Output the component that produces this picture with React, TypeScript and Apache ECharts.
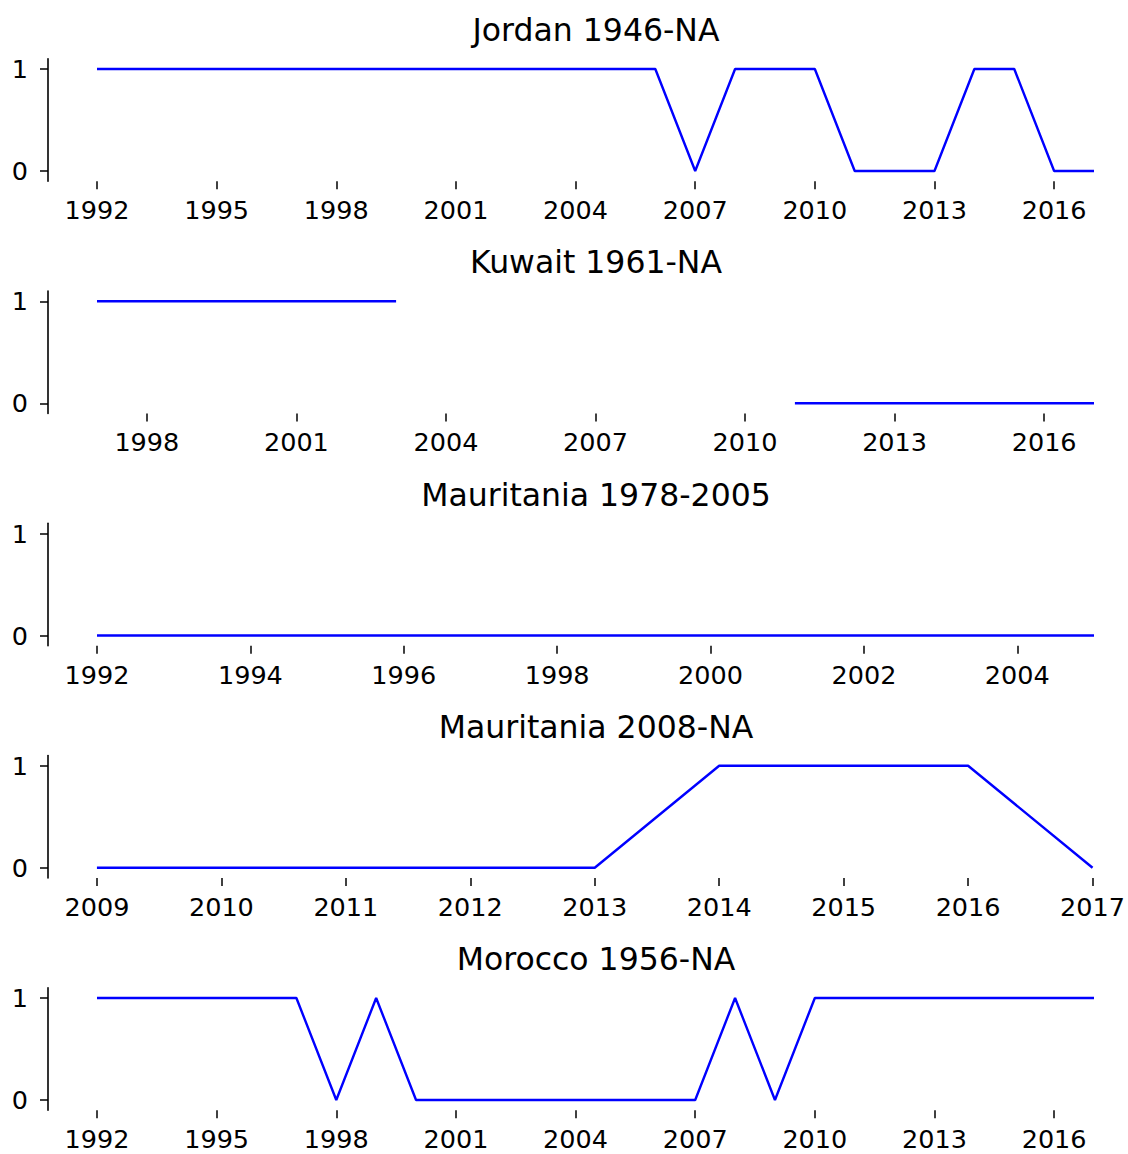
import React, { useEffect, useRef } from "react";
import * as echarts from "echarts";

const jordanYears = [1992, 1993, 1994, 1995, 1996, 1997, 1998, 1999, 2000, 2001, 2002, 2003, 2004, 2005, 2006, 2007, 2008, 2009, 2010, 2011, 2012, 2013, 2014, 2015, 2016, 2017];
const jordanValues = [1, 1, 1, 1, 1, 1, 1, 1, 1, 1, 1, 1, 1, 1, 1, 0, 1, 1, 1, 0, 0, 0, 1, 1, 0, 0];
const jordanTicks = [1992, 1995, 1998, 2001, 2004, 2007, 2010, 2013, 2016];

const kuwaitYears = [1997, 1998, 1999, 2000, 2001, 2002, 2003, 2004, 2005, 2006, 2007, 2008, 2009, 2010, 2011, 2012, 2013, 2014, 2015, 2016, 2017];
const kuwaitValues = [1, 1, 1, 1, 1, 1, 1, null, null, null, null, null, null, null, 0, 0, 0, 0, 0, 0, 0];
const kuwaitTicks = [1998, 2001, 2004, 2007, 2010, 2013, 2016];

const mauritania1Years = [1992, 1993, 1994, 1995, 1996, 1997, 1998, 1999, 2000, 2001, 2002, 2003, 2004, 2005];
const mauritania1Values = [0, 0, 0, 0, 0, 0, 0, 0, 0, 0, 0, 0, 0, 0];
const mauritania1Ticks = [1992, 1994, 1996, 1998, 2000, 2002, 2004];

const mauritania2Years = [2009, 2010, 2011, 2012, 2013, 2014, 2015, 2016, 2017];
const mauritania2Values = [0, 0, 0, 0, 0, 1, 1, 1, 0];
const mauritania2Ticks = [2009, 2010, 2011, 2012, 2013, 2014, 2015, 2016, 2017];

const moroccoYears = [1992, 1993, 1994, 1995, 1996, 1997, 1998, 1999, 2000, 2001, 2002, 2003, 2004, 2005, 2006, 2007, 2008, 2009, 2010, 2011, 2012, 2013, 2014, 2015, 2016, 2017];
const moroccoValues = [1, 1, 1, 1, 1, 1, 0, 1, 0, 0, 0, 0, 0, 0, 0, 0, 1, 0, 1, 1, 1, 1, 1, 1, 1, 1];
const moroccoTicks = [1992, 1995, 1998, 2001, 2004, 2007, 2010, 2013, 2016];

const yTicks = [0, 1];

const panels = [
  { title: "Jordan 1946-NA", years: jordanYears, values: jordanValues, ticks: jordanTicks },
  { title: "Kuwait 1961-NA", years: kuwaitYears, values: kuwaitValues, ticks: kuwaitTicks },
  { title: "Mauritania 1978-2005", years: mauritania1Years, values: mauritania1Values, ticks: mauritania1Ticks },
  { title: "Mauritania 2008-NA", years: mauritania2Years, values: mauritania2Values, ticks: mauritania2Ticks },
  { title: "Morocco 1956-NA", years: moroccoYears, values: moroccoValues, ticks: moroccoTicks },
];

const FONT = "DejaVu Sans";

export default function App() {
  const ref = useRef<HTMLDivElement>(null);
  useEffect(() => {
    if (!ref.current) return;
    const chart = echarts.init(ref.current, null, { renderer: "svg" });
    const step = 232.25;
    const gridLeft = 48;
    const gridHeight = 122.4;
    // data span occupies 997 px (from x=97 to x=1094); grid spans 48..1128
    const dataPx = 997;
    const leftPad = 49;
    const rightPad = 34;
    const grids: any[] = [];
    const xAxes: any[] = [];
    const yAxes: any[] = [];
    const series: any[] = [];
    const graphics: any[] = [];
    panels.forEach((p, i) => {
      const first = p.years[0];
      const last = p.years[p.years.length - 1];
      const span = last - first;
      grids.push({ left: gridLeft, top: 58.8 + step * i, right: 0, height: gridHeight });
      xAxes.push({
        gridIndex: i,
        type: "value",
        min: first - (span * leftPad) / dataPx,
        max: last + (span * rightPad) / dataPx,
        axisLine: { show: false, onZero: false },
        splitLine: { show: false },
        axisTick: { show: true, customValues: p.ticks, length: 8, lineStyle: { color: "#000", width: 1.5 } },
        axisLabel: {
          customValues: p.ticks,
          formatter: (v: number) => String(v),
          fontSize: 25.5,
          color: "#000",
          fontFamily: FONT,
          margin: 16,
        },
      });
      yAxes.push({
        gridIndex: i,
        type: "value",
        min: -0.1,
        max: 1.1,
        axisLine: { show: true, onZero: false, lineStyle: { color: "#000", width: 1.6 } },
        splitLine: { show: false },
        axisTick: { show: true, customValues: yTicks, length: 8, lineStyle: { color: "#000", width: 1.5 } },
        axisLabel: {
          customValues: yTicks,
          formatter: (v: number) => String(v),
          fontSize: 25.5,
          color: "#000",
          fontFamily: FONT,
          margin: 20,
        },
      });
      series.push({
        type: "line",
        xAxisIndex: i,
        yAxisIndex: i,
        data: p.years.map((y, k) => [y, p.values[k] === null ? "-" : p.values[k]]),
        showSymbol: false,
        symbol: "none",
        connectNulls: false,
        lineStyle: { color: "#0000ff", width: 2.4 },
      });
      graphics.push({
        type: "text",
        x: 596,
        y: 30 + step * i,
        style: {
          text: p.title,
          fontSize: 31.5,
          fontFamily: FONT,
          fill: "#000",
          align: "center",
          verticalAlign: "middle",
        },
      });
    });
    chart.setOption({
      animation: false,
      backgroundColor: "#fff",
      grid: grids,
      xAxis: xAxes,
      yAxis: yAxes,
      series,
      graphic: graphics,
    });
    return () => chart.dispose();
  }, []);
  return (
    <div
      ref={ref}
      style={{ position: "absolute", left: 0, top: 0, width: 1128, height: 1154 }}
    />
  );
}
